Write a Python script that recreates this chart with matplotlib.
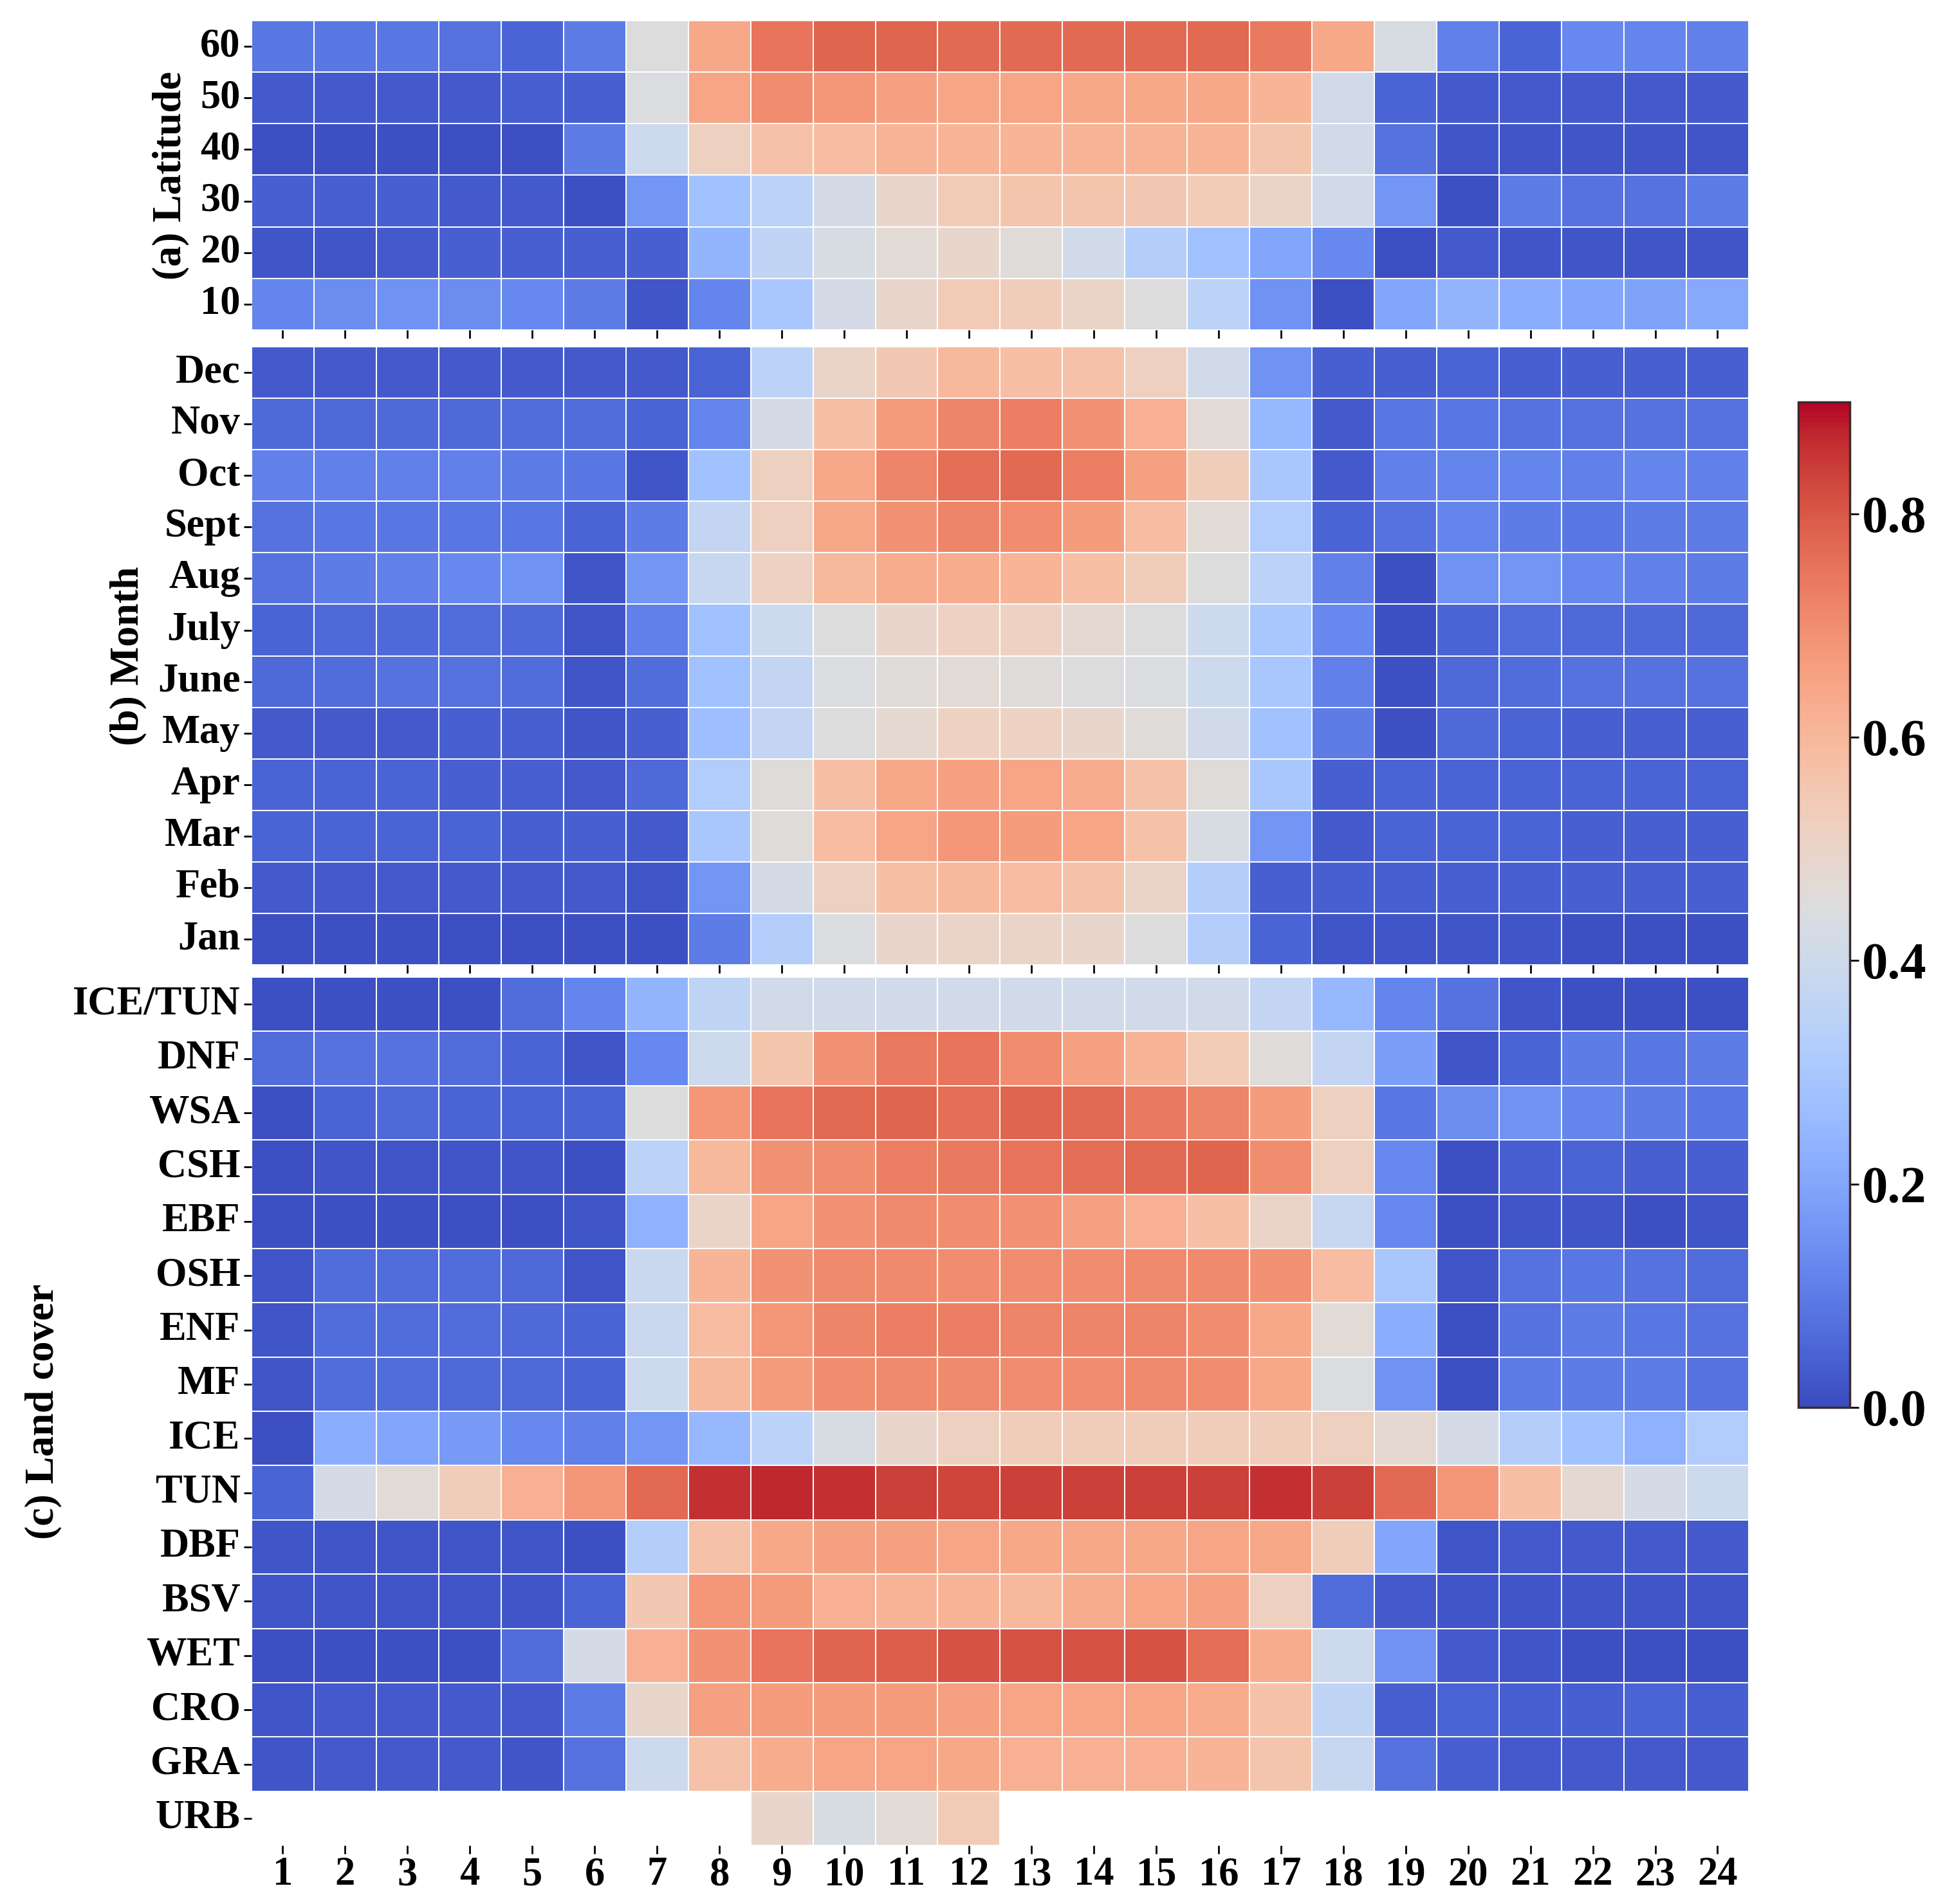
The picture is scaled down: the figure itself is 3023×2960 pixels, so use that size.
import matplotlib
matplotlib.use('Agg')
import matplotlib.pyplot as plt
import numpy as np
import seaborn as sns

plt.rcParams['font.family'] = ['Liberation Serif', 'DejaVu Serif']
plt.rcParams['font.weight'] = 'bold'

hours = [str(h) for h in range(1, 25)]

lat_labels = ['60', '50', '40', '30', '20', '10']
lat_vals = [
    [0.09, 0.09, 0.09, 0.08, 0.05, 0.10, 0.45, 0.64, 0.75, 0.78, 0.78, 0.77, 0.77, 0.77, 0.77, 0.77, 0.74, 0.64, 0.43, 0.11, 0.05, 0.13, 0.12, 0.11],
    [0.03, 0.03, 0.03, 0.03, 0.04, 0.04, 0.44, 0.65, 0.70, 0.68, 0.66, 0.65, 0.65, 0.64, 0.64, 0.64, 0.61, 0.41, 0.05, 0.03, 0.03, 0.03, 0.03, 0.03],
    [0.01, 0.01, 0.01, 0.01, 0.01, 0.10, 0.40, 0.52, 0.57, 0.59, 0.61, 0.61, 0.61, 0.61, 0.61, 0.61, 0.56, 0.41, 0.08, 0.02, 0.02, 0.02, 0.02, 0.02],
    [0.04, 0.04, 0.04, 0.03, 0.03, 0.01, 0.16, 0.28, 0.35, 0.42, 0.49, 0.54, 0.56, 0.56, 0.55, 0.54, 0.50, 0.41, 0.16, 0.01, 0.10, 0.08, 0.08, 0.10],
    [0.02, 0.02, 0.03, 0.04, 0.04, 0.04, 0.04, 0.24, 0.36, 0.43, 0.47, 0.49, 0.46, 0.41, 0.33, 0.28, 0.20, 0.13, 0.01, 0.03, 0.02, 0.02, 0.02, 0.02],
    [0.12, 0.14, 0.15, 0.14, 0.13, 0.10, 0.02, 0.12, 0.30, 0.42, 0.49, 0.54, 0.53, 0.50, 0.45, 0.35, 0.15, 0.01, 0.20, 0.24, 0.22, 0.20, 0.19, 0.21],
]

month_labels = ['Dec', 'Nov', 'Oct', 'Sept', 'Aug', 'July', 'June', 'May', 'Apr', 'Mar', 'Feb', 'Jan']
month_vals = [
    [0.03, 0.03, 0.03, 0.03, 0.03, 0.03, 0.03, 0.05, 0.35, 0.50, 0.55, 0.60, 0.58, 0.57, 0.52, 0.41, 0.15, 0.04, 0.04, 0.05, 0.04, 0.04, 0.04, 0.04],
    [0.06, 0.06, 0.06, 0.06, 0.07, 0.07, 0.05, 0.12, 0.42, 0.58, 0.67, 0.72, 0.73, 0.69, 0.62, 0.47, 0.25, 0.03, 0.09, 0.09, 0.08, 0.08, 0.08, 0.08],
    [0.11, 0.11, 0.11, 0.11, 0.10, 0.09, 0.02, 0.28, 0.52, 0.64, 0.72, 0.76, 0.77, 0.73, 0.66, 0.53, 0.30, 0.03, 0.11, 0.12, 0.12, 0.11, 0.12, 0.11],
    [0.08, 0.09, 0.09, 0.09, 0.09, 0.05, 0.10, 0.37, 0.52, 0.64, 0.69, 0.72, 0.70, 0.67, 0.59, 0.47, 0.32, 0.05, 0.08, 0.12, 0.10, 0.09, 0.10, 0.10],
    [0.08, 0.10, 0.11, 0.13, 0.15, 0.02, 0.16, 0.38, 0.51, 0.60, 0.63, 0.63, 0.61, 0.58, 0.53, 0.45, 0.35, 0.11, 0.01, 0.15, 0.16, 0.13, 0.11, 0.10],
    [0.05, 0.06, 0.06, 0.07, 0.06, 0.02, 0.11, 0.28, 0.40, 0.45, 0.49, 0.51, 0.51, 0.48, 0.45, 0.40, 0.30, 0.13, 0.01, 0.05, 0.07, 0.06, 0.06, 0.06],
    [0.06, 0.07, 0.08, 0.08, 0.07, 0.02, 0.07, 0.28, 0.37, 0.44, 0.46, 0.47, 0.46, 0.45, 0.44, 0.40, 0.30, 0.11, 0.01, 0.06, 0.07, 0.08, 0.08, 0.08],
    [0.03, 0.03, 0.03, 0.04, 0.04, 0.02, 0.04, 0.27, 0.37, 0.45, 0.48, 0.51, 0.51, 0.49, 0.46, 0.41, 0.28, 0.10, 0.01, 0.06, 0.05, 0.04, 0.04, 0.04],
    [0.05, 0.05, 0.05, 0.04, 0.04, 0.03, 0.06, 0.32, 0.46, 0.58, 0.64, 0.66, 0.65, 0.63, 0.57, 0.46, 0.30, 0.04, 0.05, 0.05, 0.05, 0.05, 0.05, 0.05],
    [0.05, 0.05, 0.05, 0.05, 0.04, 0.04, 0.03, 0.30, 0.46, 0.59, 0.65, 0.68, 0.67, 0.65, 0.57, 0.43, 0.16, 0.03, 0.05, 0.05, 0.05, 0.04, 0.04, 0.04],
    [0.03, 0.03, 0.03, 0.03, 0.03, 0.03, 0.02, 0.16, 0.42, 0.52, 0.58, 0.60, 0.59, 0.57, 0.50, 0.33, 0.04, 0.04, 0.04, 0.04, 0.04, 0.04, 0.04, 0.04],
    [0.01, 0.01, 0.01, 0.01, 0.01, 0.01, 0.01, 0.10, 0.33, 0.44, 0.49, 0.50, 0.50, 0.49, 0.45, 0.33, 0.05, 0.02, 0.02, 0.02, 0.02, 0.01, 0.01, 0.01],
]

nan = np.nan
land_labels = ['ICE/TUN', 'DNF', 'WSA', 'CSH', 'EBF', 'OSH', 'ENF', 'MF',
               'ICE', 'TUN', 'DBF', 'BSV', 'WET', 'CRO', 'GRA', 'URB']
land_vals = [
    [0.01, 0.01, 0.01, 0.01, 0.07, 0.12, 0.24, 0.36, 0.41, 0.41, 0.41, 0.41, 0.41, 0.41, 0.41, 0.41, 0.37, 0.25, 0.12, 0.08, 0.02, 0.01, 0.01, 0.01],
    [0.07, 0.08, 0.08, 0.07, 0.05, 0.02, 0.13, 0.40, 0.56, 0.69, 0.74, 0.75, 0.70, 0.66, 0.61, 0.54, 0.46, 0.37, 0.18, 0.02, 0.05, 0.10, 0.09, 0.10],
    [0.01, 0.05, 0.06, 0.05, 0.05, 0.05, 0.45, 0.68, 0.75, 0.77, 0.78, 0.76, 0.78, 0.77, 0.74, 0.72, 0.67, 0.52, 0.09, 0.14, 0.15, 0.12, 0.10, 0.09],
    [0.01, 0.02, 0.02, 0.02, 0.02, 0.01, 0.35, 0.60, 0.69, 0.70, 0.73, 0.74, 0.75, 0.76, 0.77, 0.78, 0.70, 0.52, 0.13, 0.01, 0.04, 0.05, 0.04, 0.04],
    [0.01, 0.01, 0.01, 0.01, 0.01, 0.02, 0.23, 0.50, 0.65, 0.69, 0.71, 0.70, 0.69, 0.66, 0.62, 0.58, 0.50, 0.38, 0.13, 0.01, 0.02, 0.02, 0.01, 0.02],
    [0.02, 0.07, 0.07, 0.07, 0.06, 0.02, 0.39, 0.61, 0.69, 0.71, 0.71, 0.70, 0.70, 0.70, 0.71, 0.71, 0.69, 0.59, 0.30, 0.02, 0.08, 0.09, 0.08, 0.07],
    [0.02, 0.07, 0.07, 0.07, 0.06, 0.05, 0.39, 0.59, 0.68, 0.72, 0.73, 0.73, 0.72, 0.72, 0.72, 0.70, 0.64, 0.47, 0.22, 0.01, 0.08, 0.10, 0.09, 0.08],
    [0.02, 0.07, 0.07, 0.06, 0.06, 0.05, 0.40, 0.60, 0.67, 0.70, 0.71, 0.71, 0.70, 0.70, 0.71, 0.70, 0.64, 0.44, 0.15, 0.01, 0.10, 0.10, 0.10, 0.08],
    [0.01, 0.22, 0.20, 0.17, 0.13, 0.11, 0.16, 0.25, 0.35, 0.43, 0.49, 0.52, 0.53, 0.53, 0.53, 0.53, 0.53, 0.52, 0.48, 0.42, 0.33, 0.28, 0.23, 0.32],
    [0.05, 0.42, 0.47, 0.53, 0.62, 0.68, 0.77, 0.86, 0.87, 0.86, 0.84, 0.83, 0.84, 0.84, 0.84, 0.84, 0.86, 0.84, 0.77, 0.68, 0.58, 0.48, 0.42, 0.40],
    [0.02, 0.02, 0.02, 0.02, 0.02, 0.01, 0.33, 0.57, 0.64, 0.66, 0.66, 0.65, 0.64, 0.64, 0.64, 0.65, 0.64, 0.53, 0.20, 0.02, 0.03, 0.03, 0.03, 0.03],
    [0.02, 0.02, 0.02, 0.02, 0.02, 0.05, 0.55, 0.68, 0.67, 0.62, 0.61, 0.61, 0.60, 0.63, 0.65, 0.66, 0.52, 0.07, 0.03, 0.02, 0.02, 0.02, 0.02, 0.02],
    [0.01, 0.01, 0.01, 0.01, 0.07, 0.42, 0.62, 0.69, 0.75, 0.78, 0.79, 0.81, 0.81, 0.81, 0.81, 0.76, 0.63, 0.40, 0.15, 0.03, 0.02, 0.01, 0.01, 0.01],
    [0.02, 0.03, 0.03, 0.03, 0.03, 0.10, 0.49, 0.66, 0.67, 0.67, 0.67, 0.66, 0.65, 0.65, 0.65, 0.63, 0.57, 0.36, 0.04, 0.05, 0.04, 0.04, 0.05, 0.04],
    [0.02, 0.03, 0.03, 0.03, 0.02, 0.08, 0.40, 0.57, 0.63, 0.65, 0.65, 0.64, 0.62, 0.62, 0.62, 0.61, 0.56, 0.38, 0.08, 0.04, 0.03, 0.03, 0.03, 0.03],
    [nan, nan, nan, nan, nan, nan, nan, nan, 0.49, 0.43, 0.47, 0.54, nan, nan, nan, nan, nan, nan, nan, nan, nan, nan, nan, nan],
]

fig = plt.figure(figsize=(30.23, 29.60), dpi=100)

# panel positions [left, bottom, width, height] in figure fraction
ax_a = fig.add_axes([0.1293, 0.8267, 0.7698, 0.1625])
ax_b = fig.add_axes([0.1293, 0.4932, 0.7698, 0.3247])
ax_c = fig.add_axes([0.1293, 0.0307, 0.7698, 0.4561])
cax = fig.add_axes([0.9246, 0.2608, 0.0265, 0.5280])

panels = [
    (ax_a, lat_vals, lat_labels, '(a) Latitude'),
    (ax_b, month_vals, month_labels, '(b) Month'),
    (ax_c, land_vals, land_labels, '(c) Land cover'),
]

for ax, vals, ylabels, title in panels:
    sns.heatmap(np.array(vals, dtype=float), ax=ax, cmap='coolwarm', vmin=0, vmax=0.9,
                linewidths=1.2, linecolor='white', cbar=False,
                xticklabels=hours, yticklabels=ylabels)
    ax.set_ylabel(title, fontsize=46, fontweight='bold', labelpad=12)
    ax.tick_params(axis='y', labelsize=45, length=9, width=2, rotation=0)
    ax.tick_params(axis='x', labelsize=45, length=9, width=2, rotation=0)
    for lbl in ax.get_yticklabels():
        lbl.set_fontweight('bold')
    for lbl in ax.get_xticklabels():
        lbl.set_fontweight('bold')

# only the bottom panel shows hour labels
ax_a.tick_params(axis='x', labelbottom=False)
ax_b.tick_params(axis='x', labelbottom=False)

# shared colorbar
sm = plt.cm.ScalarMappable(cmap='coolwarm', norm=plt.Normalize(0, 0.9))
cb = fig.colorbar(sm, cax=cax, ticks=[0.0, 0.2, 0.4, 0.6, 0.8])
cb.ax.set_yticklabels(['0.0', '0.2', '0.4', '0.6', '0.8'])
cb.ax.tick_params(labelsize=58, length=10, width=2)
for lbl in cb.ax.get_yticklabels():
    lbl.set_fontweight('bold')
cb.outline.set_linewidth(2.5)
cb.outline.set_edgecolor('#3a2a2a')

fig.savefig('out.png', dpi=100)
